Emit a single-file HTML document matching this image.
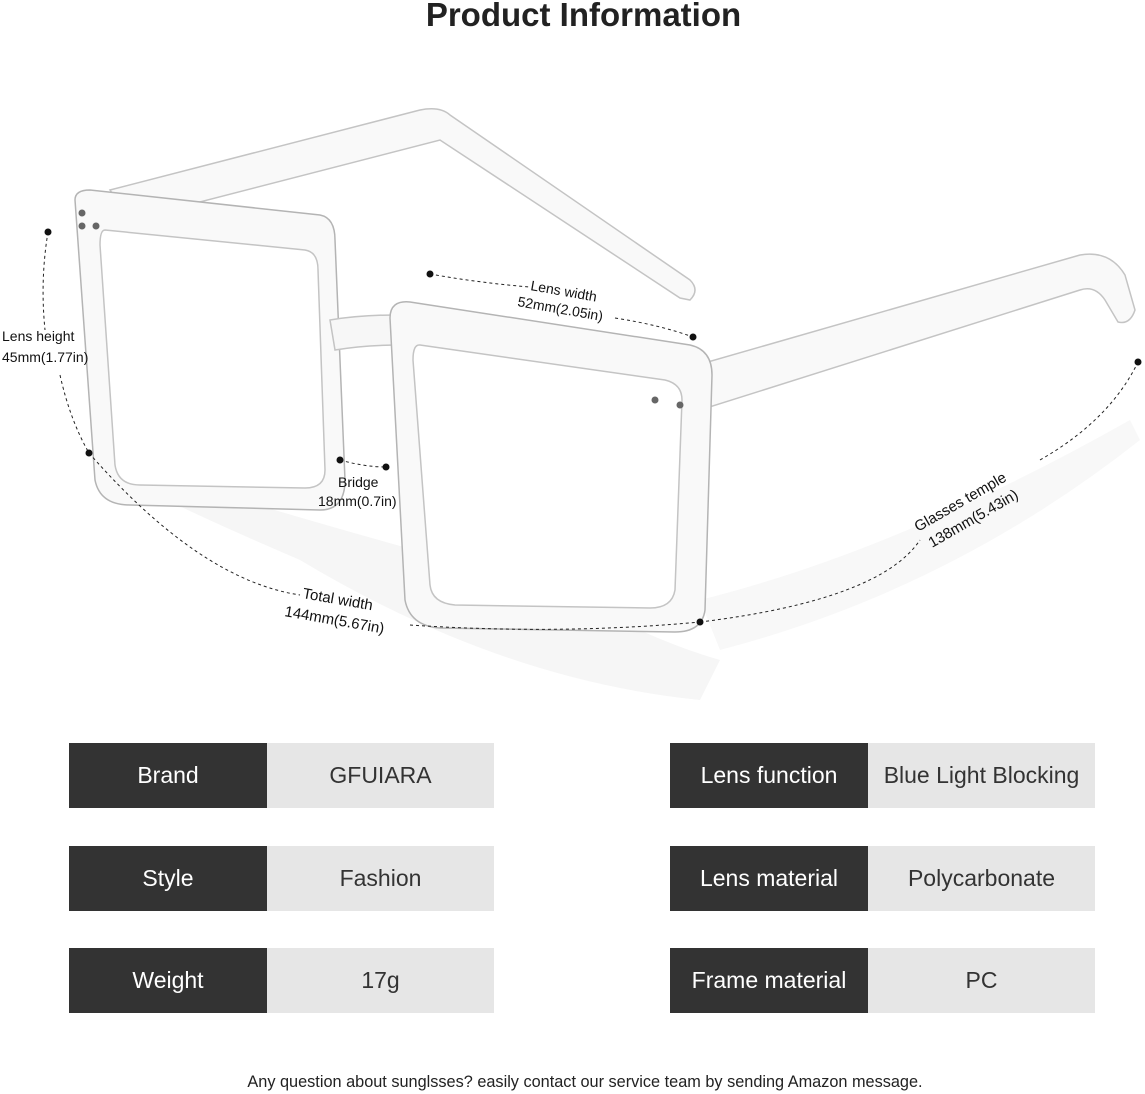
<!DOCTYPE html>
<html><head><meta charset="utf-8"><style>
body{margin:0;width:1145px;height:1094px;background:#fff;position:relative;overflow:hidden;font-family:"Liberation Sans",sans-serif}
.t{position:absolute;left:11px;width:1145px;top:-4px;text-align:center;font-weight:bold;font-size:33px;color:#222}
.c{position:absolute;height:65px;display:flex;align-items:center;justify-content:center;font-size:23px}
.d{background:#333;color:#fff;width:198px}
.l{background:#e6e6e6;color:#333;width:227px}
.f{position:absolute;top:1073px;left:0;width:1170px;text-align:center;font-size:16.3px;color:#222}
</style></head><body>
<div class="t">Product Information</div>
<svg width="1145" height="720" style="position:absolute;left:0;top:0" font-family="Liberation Sans" font-size="14" fill="#111">
<path d="M110 460 Q300 520 560 590 Q650 640 720 660 L700 700 Q500 680 300 560 Q160 500 110 470Z" fill="#f6f6f6"/>
<path d="M700 600 Q900 550 1130 420 L1140 440 Q950 590 720 650Z" fill="#f8f8f8"/>
<path d="M110 190 L420 110 Q440 106 450 115 L690 280 Q700 290 690 300 L680 298 L440 140 L130 220Z" fill="#f9f9f9" stroke="#c4c4c4" stroke-width="1.5"/>
<path d="M680 370 L1080 255 Q1110 250 1125 275 L1135 310 Q1130 325 1118 322 L1105 300 Q1095 285 1080 290 L700 410Z" fill="#f9f9f9" stroke="#c4c4c4" stroke-width="1.5"/>
<path d="M75 200 Q75 190 90 190 L320 215 Q335 218 335 240 L345 480 Q345 510 320 510 L130 505 Q100 505 95 480 Z" fill="#f9f9f9" stroke="#b4b4b4" stroke-width="1.5"/>
<path d="M105 230 L305 250 Q318 252 318 270 L325 470 Q325 488 305 488 L140 485 Q118 485 115 465 L100 245 Q100 230 105 230Z" fill="#fff" stroke="#c4c4c4" stroke-width="1.5"/>
<path d="M330 320 Q360 315 395 315 L400 345 Q365 345 335 350Z" fill="#f7f7f7" stroke="#c4c4c4" stroke-width="1.5"/>
<path d="M390 318 Q390 300 410 302 L690 345 Q712 350 712 375 L705 610 Q702 632 675 632 L440 628 Q410 626 405 600 Z" fill="#f9f9f9" stroke="#b4b4b4" stroke-width="1.5"/>
<path d="M420 345 L665 380 Q682 384 682 400 L675 590 Q672 608 650 608 L455 605 Q432 603 430 585 L413 360 Q413 344 420 345Z" fill="#fff" stroke="#c4c4c4" stroke-width="1.5"/>
<circle cx="82" cy="213" r="3.5" fill="#666"/><circle cx="82" cy="226" r="3.5" fill="#666"/><circle cx="96" cy="226" r="3.5" fill="#666"/>
<circle cx="655" cy="400" r="3.5" fill="#666"/><circle cx="680" cy="405" r="3.5" fill="#666"/>
<g fill="none" stroke="#222" stroke-width="1" stroke-dasharray="3,3">
<path d="M48 232 Q40 280 45 330"/><path d="M60 375 Q70 420 89 453"/>
<path d="M89 453 Q200 580 300 595"/><path d="M410 625 Q560 635 700 622"/>
<path d="M700 622 Q880 600 920 540"/><path d="M1040 460 Q1110 420 1138 362"/>
<path d="M430 274 Q480 283 530 287"/><path d="M615 318 Q660 325 693 337"/>
<path d="M340 460 Q365 467 386 467"/>
</g>
<g fill="#111"><circle cx="48" cy="232" r="3.5"/><circle cx="89" cy="453" r="3.5"/><circle cx="700" cy="622" r="3.5"/><circle cx="1138" cy="362" r="3.5"/><circle cx="430" cy="274" r="3.5"/><circle cx="693" cy="337" r="3.5"/><circle cx="340" cy="460" r="3.5"/><circle cx="386" cy="467" r="3.5"/></g>
<text x="2" y="341">Lens height</text><text x="2" y="362">45mm(1.77in)</text>
<text x="530" y="290" transform="rotate(10 530 290)">Lens width</text><text x="517" y="306" transform="rotate(10 517 306)">52mm(2.05in)</text>
<text x="338" y="487">Bridge</text><text x="318" y="506">18mm(0.7in)</text>
<text x="302" y="598" font-size="15" transform="rotate(10 302 598)">Total width</text><text x="284" y="616" font-size="15" transform="rotate(10 284 616)">144mm(5.67in)</text>
<text x="918" y="532" font-size="15" transform="rotate(-30 918 532)">Glasses temple</text><text x="932" y="548" font-size="15" transform="rotate(-30 932 548)">138mm(5.43in)</text>
</svg>
<div class="c d" style="left:69px;top:743px">Brand</div><div class="c l" style="left:267px;top:743px">GFUIARA</div>
<div class="c d" style="left:69px;top:846px">Style</div><div class="c l" style="left:267px;top:846px">Fashion</div>
<div class="c d" style="left:69px;top:948px">Weight</div><div class="c l" style="left:267px;top:948px">17g</div>
<div class="c d" style="left:670px;top:743px">Lens function</div><div class="c l" style="left:868px;top:743px">Blue Light Blocking</div>
<div class="c d" style="left:670px;top:846px">Lens material</div><div class="c l" style="left:868px;top:846px">Polycarbonate</div>
<div class="c d" style="left:670px;top:948px">Frame material</div><div class="c l" style="left:868px;top:948px">PC</div>
<div class="f">Any question about sunglsses? easily contact our service team by sending Amazon message.</div>
</body></html>
